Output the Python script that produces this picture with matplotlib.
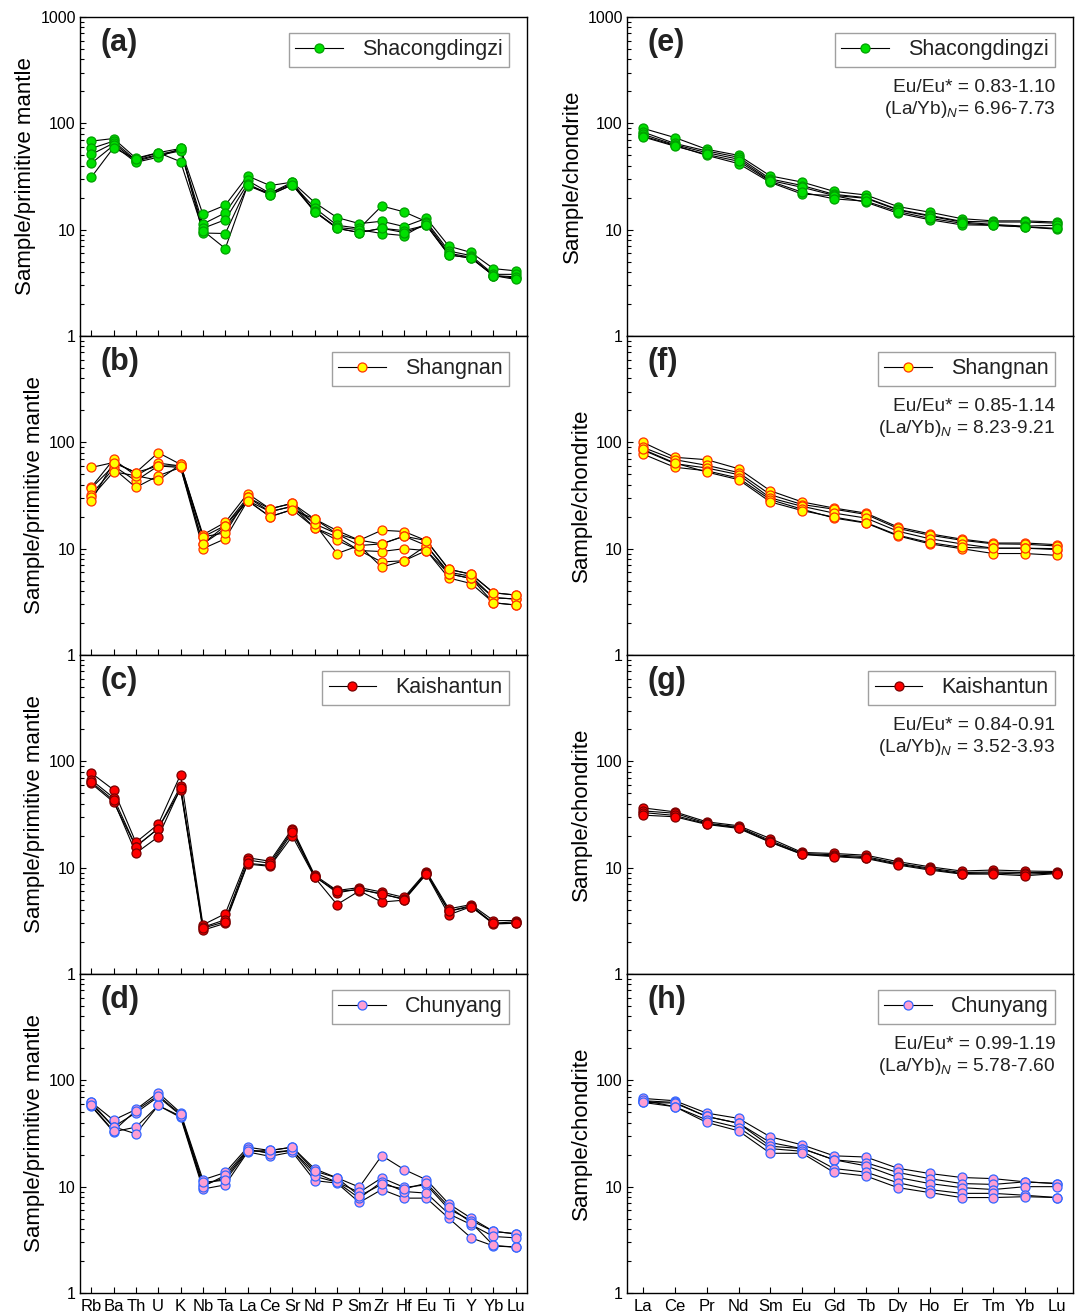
import numpy as np
import matplotlib
matplotlib.use('Agg')
import matplotlib.pyplot as plt
from matplotlib.lines import Line2D
from matplotlib.ticker import LogLocator, NullFormatter, FixedLocator

plt.rcParams['font.family'] = ['Liberation Sans', 'DejaVu Sans']
plt.rcParams['mathtext.fontset'] = 'custom'
plt.rcParams['mathtext.rm'] = 'Liberation Sans'
plt.rcParams['mathtext.it'] = 'Liberation Sans:italic'

# element lists
spider_el = ['Rb', 'Ba', 'Th', 'U', 'K', 'Nb', 'Ta', 'La', 'Ce', 'Sr', 'Nd', 'P', 'Sm',
             'Zr', 'Hf', 'Eu', 'Ti', 'Y', 'Yb', 'Lu']
ree_el = ['La', 'Ce', 'Pr', 'Nd', 'Sm', 'Eu', 'Gd', 'Tb', 'Dy', 'Ho', 'Er', 'Tm', 'Yb', 'Lu']

# primitive-mantle normalised (a-d)
shacong_pm = [
    [68, 72, 47, 53, 58, 13.9, 17, 32, 26, 28, 18, 13, 11.4, 12, 10.7, 12.8, 7.0, 6.1, 4.3, 4.1],
    [58, 68, 45, 51, 56, 11.3, 14.4, 29, 22, 27, 16, 11, 10.3, 16.7, 14.7, 11.9, 6.3, 5.7, 3.8, 3.8],
    [51, 65, 44, 50, 55, 10.3, 12.4, 27, 21.3, 26.4, 15, 10.3, 9.4, 10.3, 9.8, 11.0, 5.8, 5.4, 3.7, 3.5],
    [42, 62, 43, 48, 58, 9.3, 9.2, 26, 22, 28, 14.7, 10.5, 10, 9.2, 8.8, 11.5, 6.0, 5.5, 3.7, 3.6],
    [31, 59, 46, 53, 43.6, 9.8, 6.65, 26.1, 21.3, 26.4, 14.7, 10.3, 9.4, 10.3, 9.4, 11.0, 5.8, 5.4, 3.7, 3.4],
]
shangnan_pm = [
    [58, 64.6, 52, 80, 62, 13.5, 17.7, 33, 23.7, 26.7, 19, 14.8, 12, 14.9, 14.5, 11.9, 6.4, 5.75, 3.85, 3.66],
    [37.7, 69, 48.5, 63.7, 60, 12.9, 16.5, 30.4, 22.3, 25, 17.1, 13.8, 10.7, 11.1, 13.1, 10.7, 6.0, 5.5, 3.46, 3.36],
    [36.9, 60, 43.5, 60, 58, 11.1, 15.4, 28.3, 20, 23.3, 15.7, 12.9, 9.6, 9.4, 10, 9.6, 5.3, 4.7, 3.1, 2.95],
    [32.2, 56.7, 37.7, 48.5, 58, 10, 12.4, 28.3, 22.3, 25, 15.7, 12, 9.6, 7.5, 7.7, 10.7, 5.8, 5.25, 3.46, 3.36],
    [30.4, 52.8, 48.5, 44, 62, 12.9, 14.1, 30.4, 23.7, 26.7, 17.1, 9.0, 10.7, 6.7, 7.7, 9.6, 5.8, 5.25, 3.1, 2.95],
    [28.1, 64.6, 52, 60, 60, 11.1, 16.5, 28.3, 20, 23.3, 19, 13.8, 12, 11.1, 13.1, 11.9, 6.4, 5.75, 3.85, 3.66],
]
kaishan_pm = [
    [77.8, 54, 17.3, 25.6, 75, 2.9, 3.69, 12.4, 11.5, 23.3, 8.5, 6.1, 6.5, 5.9, 5.25, 9.2, 4.1, 4.5, 3.18, 3.18],
    [67, 45.4, 15.8, 23.3, 58.3, 2.75, 3.24, 11.8, 11, 22.4, 8.3, 5.8, 6.3, 5.6, 5.1, 9.0, 3.9, 4.4, 3.0, 3.1],
    [62, 41.4, 15.8, 23.3, 54.3, 2.58, 3.0, 10.8, 10.3, 19.8, 8.1, 4.5, 6.05, 4.75, 4.95, 8.7, 3.6, 4.3, 2.95, 3.0],
    [64, 43, 13.7, 19.5, 56, 2.7, 3.1, 11, 10.5, 21.5, 8.2, 6.0, 6.2, 5.7, 5.0, 8.8, 3.9, 4.3, 3.0, 3.0],
]
chunyang_pm = [
    [62.5, 42.3, 53.2, 76.6, 49.5, 11.6, 13.6, 23.5, 21.9, 23.5, 14.7, 12.1, 9.9, 19.6, 14.5, 11.6, 6.9, 5.05, 3.8, 3.6],
    [60, 36.6, 49.5, 70, 47, 10.4, 12.1, 22, 21, 22, 13.5, 11, 8.85, 12.1, 9.85, 10.4, 6.15, 4.8, 3.8, 3.6],
    [57.3, 32.8, 36.3, 58, 44.8, 9.5, 10.4, 21.2, 19.3, 21.2, 11.4, 10.8, 7.1, 9.4, 7.8, 7.8, 5.05, 3.3, 2.77, 2.7],
    [62, 36.6, 31.4, 58, 46, 10.0, 12.8, 22.5, 20.5, 22, 12.5, 11, 7.8, 11.1, 9.0, 8.7, 5.55, 4.4, 3.4, 3.3],
    [58, 33.5, 52, 72, 48, 11.0, 11.5, 21.5, 21.9, 23.5, 14, 12.1, 8.2, 10.5, 9.5, 10.8, 6.5, 4.6, 2.8, 2.7],
]

# chondrite normalised (e-h)
shacong_ch = [
    [89.8, 73.5, 57, 50, 32, 28, 22.9, 21.2, 16.5, 14.6, 12.7, 12.1, 12.1, 11.8],
    [83, 64.7, 55, 48, 30, 26, 21.5, 20, 15.5, 13.6, 12, 11.8, 11.8, 11.5],
    [79, 63, 53, 46, 29, 25, 21, 19.7, 15.3, 13.4, 11.8, 11.2, 10.8, 11],
    [76, 62, 50, 41.8, 27.8, 21.6, 20.9, 18.1, 14.3, 12.4, 11.1, 11, 10.6, 10.1],
    [74.6, 61, 51, 44, 28.5, 22.5, 19.5, 18.5, 14.8, 12.8, 11.5, 11, 10.6, 10.3],
]
shangnan_ch = [
    [100, 72.3, 68.7, 56.5, 35, 27.5, 24.1, 21.6, 16, 13.8, 12.3, 11.3, 11.3, 10.9],
    [89.7, 68.7, 60.8, 52, 32.2, 26, 23.5, 21, 15.5, 13.4, 12, 11.1, 11, 10.6],
    [84.7, 63, 57.4, 49.7, 30, 25, 21.6, 19.4, 14.6, 12.4, 11.1, 10.1, 10.1, 9.8],
    [77.6, 58.3, 54, 46.2, 28.9, 23.5, 19.4, 17.4, 13.2, 11.1, 10, 9.0, 9.0, 8.65],
    [86, 64, 52.6, 44.6, 27.5, 22.8, 19.8, 17.6, 13.4, 11.4, 10.3, 10.1, 10.1, 10.0],
]
kaishan_ch = [
    [36.5, 33.5, 27, 24.8, 18.8, 13.9, 13.6, 13.1, 11.4, 10.2, 9.3, 9.5, 9.3, 9.2],
    [34.2, 32.5, 26.2, 24.2, 18, 13.6, 13.2, 12.7, 11, 9.9, 9.0, 9.1, 9.0, 9.0],
    [33, 31, 25.8, 23.8, 17.5, 13.4, 12.9, 12.4, 10.8, 9.7, 8.8, 8.9, 8.7, 8.9],
    [31.2, 30.1, 25.5, 23.4, 17.3, 13.3, 12.7, 12.2, 10.6, 9.5, 8.7, 8.7, 8.4, 8.8],
]
chunyang_ch = [
    [67.6, 64.3, 49.2, 43.9, 29.4, 24.7, 19.5, 19, 14.9, 13.3, 12.2, 11.9, 11.1, 10.7],
    [64.3, 62, 45.7, 39.5, 26, 22.8, 17.9, 16.8, 13.6, 11.9, 10.7, 10.5, 11.1, 10.7],
    [62, 61.1, 45.7, 39.5, 24, 22.8, 17.9, 15.7, 12.2, 10.7, 9.8, 9.4, 10, 10],
    [65, 56.5, 42.5, 36, 22.8, 21.5, 14.8, 13.7, 10.9, 9.4, 8.65, 8.65, 8.3, 7.9],
    [62, 56.5, 40.2, 33.5, 20.6, 20.6, 13.6, 12.6, 9.8, 8.8, 7.9, 7.9, 8.05, 7.9],
]

groups = ['Shacongdingzi', 'Shangnan', 'Kaishantun', 'Chunyang']
face = ['#00e000', '#ffff00', '#ff0000', '#ff9fd2']
edge = ['#00a000', '#ff3300', '#7a0000', '#3366ff']
pm_data = [shacong_pm, shangnan_pm, kaishan_pm, chunyang_pm]
ch_data = [shacong_ch, shangnan_ch, kaishan_ch, chunyang_ch]
ratios = [
    ('Eu/Eu* = 0.83-1.10', '(La/Yb)$_N$= 6.96-7.73'),
    ('Eu/Eu* = 0.85-1.14', '(La/Yb)$_N$ = 8.23-9.21'),
    ('Eu/Eu* = 0.84-0.91', '(La/Yb)$_N$ = 3.52-3.93'),
    ('Eu/Eu* = 0.99-1.19', '(La/Yb)$_N$ = 5.78-7.60'),
]
left_tags = ['(a)', '(b)', '(c)', '(d)']
right_tags = ['(e)', '(f)', '(g)', '(h)']

W, H = 1079, 1312
fig = plt.figure(figsize=(W / 100, H / 100), dpi=100)


def setup(ax, n, labels, top_row, bottom_row, xticks_all):
    ax.set_yscale('log')
    ax.set_ylim(1, 1000)
    ax.set_xlim(-0.5, n - 0.5)
    if top_row:
        ax.yaxis.set_major_locator(FixedLocator([1, 10, 100, 1000]))
    else:
        ax.yaxis.set_major_locator(FixedLocator([1, 10, 100]))
    ax.yaxis.set_minor_locator(LogLocator(base=10, subs=np.arange(2, 10)))
    ax.yaxis.set_minor_formatter(NullFormatter())
    ax.set_yticklabels(['1', '10', '100', '1000'][:len(ax.get_yticks())])
    ax.tick_params(axis='y', which='major', direction='in', length=4, width=0.8,
                   labelsize=11.5, pad=3)
    ax.tick_params(axis='y', which='minor', direction='in', length=3, width=0.8)
    ax.set_xticks(np.arange(n))
    if bottom_row:
        ax.set_xticklabels(labels)
    else:
        ax.set_xticklabels([])
    if xticks_all or bottom_row:
        ax.tick_params(axis='x', direction='in', length=4, width=0.8, labelsize=12, pad=4)
    else:
        ax.tick_params(axis='x', length=0)
    for s in ax.spines.values():
        s.set_linewidth(1.0)


def draw(ax, data, fc, ec, name):
    x = np.arange(len(data[0]))
    for row in data:
        ax.plot(x, row, color='black', lw=0.8, zorder=2)
    for row in data:
        ax.plot(x, row, ls='none', marker='o', ms=6.5, mfc=fc, mec=ec, mew=0.9, zorder=3)
    h = Line2D([], [], color='black', lw=0.8, marker='o', ms=6.5, mfc=fc, mec=ec, mew=0.9)
    leg = ax.legend([h], [name], loc='upper right', bbox_to_anchor=(0.96, 0.95),
                    borderaxespad=0, fontsize=15.5, frameon=True, fancybox=False,
                    handlelength=2.2, handletextpad=0.9, borderpad=0.3)
    leg.get_frame().set_edgecolor('#888888')
    leg.get_frame().set_linewidth(1.0)
    for t in leg.get_texts():
        t.set_color('#222222')


for i in range(4):
    top_px = 17 + 319 * i
    y0 = 1 - (top_px + 319) / H
    h = 319 / H

    axl = fig.add_axes([80 / W, y0, 447 / W, h])
    setup(axl, len(spider_el), spider_el, i == 0, i == 3, True)
    draw(axl, pm_data[i], face[i], edge[i], groups[i])
    axl.set_ylabel('Sample/primitive mantle', fontsize=16, labelpad=3)
    axl.text(0.045, 0.92, left_tags[i], transform=axl.transAxes, fontsize=22,
             fontweight='bold', color='#222222', va='center', ha='left')

    axr = fig.add_axes([627 / W, y0, 446 / W, h])
    setup(axr, len(ree_el), ree_el, i == 0, i == 3, False)
    draw(axr, ch_data[i], face[i], edge[i], groups[i])
    axr.set_ylabel('Sample/chondrite', fontsize=16, labelpad=3)
    axr.text(0.045, 0.92, right_tags[i], transform=axr.transAxes, fontsize=22,
             fontweight='bold', color='#222222', va='center', ha='left')
    axr.text(0.96, 0.778, ratios[i][0], transform=axr.transAxes, fontsize=13.8,
             color='#222222', ha='right', va='center')
    axr.text(0.96, 0.71, ratios[i][1], transform=axr.transAxes, fontsize=13.8,
             color='#222222', ha='right', va='center')

fig.savefig('out.png', dpi=100)
